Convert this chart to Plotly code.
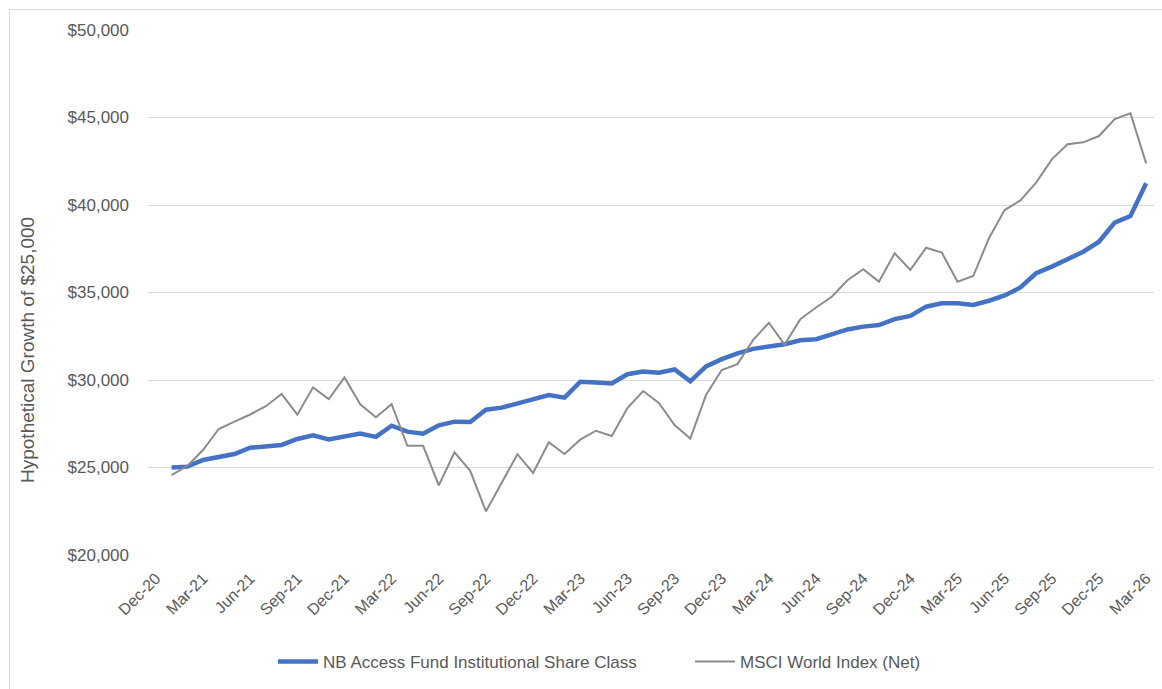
import pandas as pd
import plotly.graph_objects as go

# Month axis: Dec-20 through Mar-26, labelled every quarter
months = pd.date_range("2020-12-01", periods=64, freq="MS").strftime("%b-%y").tolist()
tick_months = months[::3]

# Monthly values from Jan-21 onward
fund_values = [
    25000, 25050, 25430, 25620, 25770, 26130, 26200, 26290, 26630, 26840,
    26600, 26800, 26940, 26750, 27390, 27050, 26930, 27410, 27620, 27600,
    28300, 28420, 28670, 28950, 29140, 28990, 29900, 29860, 29800, 30330,
    30480, 30420, 30600, 29920, 30780, 31190, 31520, 31780, 31940, 32040,
    32270, 32330, 32610, 32890, 33050, 33140, 33480, 33660, 34190, 34380,
    34380, 34290, 34530, 34830, 35290, 36100, 36480, 36900, 37330, 37900,
    38990, 39370, 41240,
]
index_values = [
    24570, 25090, 26000, 27200, 27620, 28030, 28500, 29200, 28020, 29580,
    28910, 30150, 28610, 27870, 28620, 26240, 26240, 23980, 25870, 24810,
    22490, 24130, 25760, 24690, 26440, 25770, 26590, 27100, 26800, 28400,
    29370, 28690, 27430, 26650, 29140, 30570, 30910, 32290, 33270, 32020,
    33470, 34140, 34760, 35700, 36330, 35620, 37240, 36290, 37560, 37280,
    35620, 35940, 38100, 39710, 40260, 41280, 42610, 43470, 43580, 43940,
    44910, 45240, 42380,
]
data_months = months[1:1 + len(fund_values)]

fund_name = "NB Access Fund Institutional Share Class"
index_name = "MSCI World Index (Net)"
y_title = "Hypothetical Growth of $25,000"

TEXT = "#595959"
GRID = "#D9D9D9"
FONT = "Liberation Sans, Arial, sans-serif"

fig = go.Figure()
fig.add_trace(go.Scatter(
    x=data_months, y=fund_values, name=fund_name, mode="lines",
    line=dict(color="#4472C4", width=4.5),
))
fig.add_trace(go.Scatter(
    x=data_months, y=index_values, name=index_name, mode="lines",
    line=dict(color="#8C8C8C", width=2),
))

W, H = 1162, 689
L, R, T, B = 148, 8, 30, 134
pw, ph = W - L - R, H - T - B


def px_x(p):
    return (p - L) / pw


def px_y(p):
    return (H - B - p) / ph


# light frame around the chart area
fig.add_shape(type="rect", xref="paper", yref="paper",
              x0=px_x(9.5), x1=px_x(1200), y0=px_y(9.5), y1=px_y(720),
              line=dict(color="#D9D9D9", width=1), fillcolor="rgba(0,0,0,0)",
              layer="below")

# vertical axis title
fig.add_annotation(
    text=y_title, xref="paper", yref="paper",
    x=px_x(27), y=px_y(350), xanchor="center", yanchor="middle",
    textangle=-90, showarrow=False,
    font=dict(family=FONT, size=19, color=TEXT),
)

fig.update_layout(
    width=W, height=H,
    margin=dict(l=L, r=R, t=T, b=B, pad=0),
    paper_bgcolor="white", plot_bgcolor="white",
    font=dict(family=FONT, color=TEXT),
    showlegend=True,
    legend=dict(
        orientation="h", xref="container", yref="container",
        x=273 / W, xanchor="left", y=(H - 662) / H, yanchor="middle",
        font=dict(family=FONT, size=17, color=TEXT),
        itemwidth=40, tracegroupgap=0, entrywidth=362,
    ),
    xaxis=dict(
        type="category", categoryorder="array", categoryarray=months,
        range=[-0.5, len(months) - 0.5],
        tickmode="array", tickvals=tick_months, ticktext=tick_months,
        tickangle=-45, tickfont=dict(family=FONT, size=16, color=TEXT),
        ticklabelstandoff=10,
        showgrid=False, showline=False, zeroline=False, ticks="",
    ),
    yaxis=dict(
        range=[20000, 50000], dtick=5000, tick0=20000,
        tickprefix="$", tickformat=",d",
        tickfont=dict(family=FONT, size=17, color=TEXT),
        showgrid=True, gridcolor=GRID, gridwidth=1,
        showline=False, zeroline=False, ticks="",
        ticklabelstandoff=18,
    ),
)

fig.write_html("out.html")
